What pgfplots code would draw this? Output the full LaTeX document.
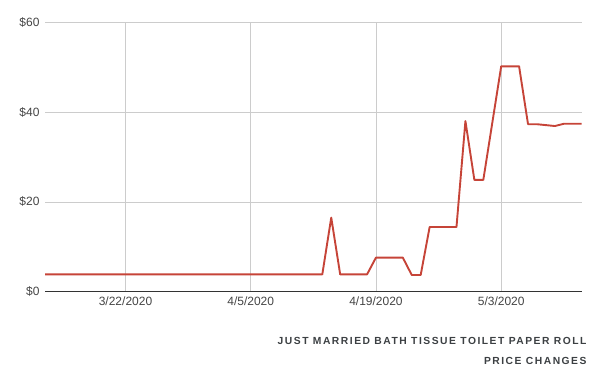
\documentclass[border=0pt]{standalone}
\usepackage{fontspec}
\setmainfont{Liberation Sans}
\newfontfamily\titlefont[LetterSpace=14.7]{Liberation Sans}
\usepackage{pgfplots}
\pgfplotsset{compat=1.18}
\definecolor{linered}{RGB}{198,68,56}
\definecolor{gridgray}{RGB}{204,204,204}
\definecolor{labgray}{RGB}{68,68,68}
\definecolor{titlegray}{RGB}{60,64,67}
\begin{document}
\begin{tikzpicture}
\begin{axis}[
  scale only axis,
  width=536.7bp, height=269.4bp,
  xmin=-9, xmax=51, ymin=0, ymax=60,
  xtick={0,14,28,42},
  xticklabels={3/22/2020,4/5/2020,4/19/2020,5/3/2020},
  ytick={0,20,40,60},
  yticklabels={\$0,\$20,\$40,\$60},
  grid=major,
  major grid style={gridgray, line width=0.8bp},
  major tick length=0pt,
  axis x line=bottom, axis y line=left,
  x axis line style={-, draw={rgb,255:red,51;green,51;blue,51}, line width=1bp},
  y axis line style={draw=none},
  tick label style={font=\fontsize{12bp}{14bp}\selectfont, text=labgray},
  xticklabel style={yshift=-2bp},
  yticklabel style={xshift=-2bp},
  clip=false,
]
\addplot[linered, line width=1.9bp, line join=round] coordinates {
(-9,3.85) (22,3.85) (23,16.5) (24,3.85) (27,3.85) (28,7.6) (31,7.6)
(32,3.72) (33,3.72) (34,14.4) (37,14.4) (38,38.0) (39,24.9) (40,24.9)
(42,50.2) (44,50.2) (45,37.3) (46,37.3) (48,36.9) (49,37.4) (51,37.4)
};
\coordinate (ll) at (rel axis cs:0,0);
\coordinate (ur) at (rel axis cs:1,1);
\end{axis}
\path ([shift={(-45bp,-79.3bp)}]ll) rectangle ([shift={(18.3bp,22.3bp)}]ur);
\node[anchor=base east, inner sep=0pt, text=titlegray, font=\titlefont\bfseries\fontsize{10.3bp}{12bp}\selectfont] at ([shift={(5bp,-52.3bp)}]ur|-ll) {JUST MARRIED BATH TISSUE TOILET PAPER ROLL};
\node[anchor=base east, inner sep=0pt, text=titlegray, font=\titlefont\bfseries\fontsize{10.3bp}{12bp}\selectfont] at ([shift={(5bp,-72.6bp)}]ur|-ll) {PRICE CHANGES};
\end{tikzpicture}
\end{document}
